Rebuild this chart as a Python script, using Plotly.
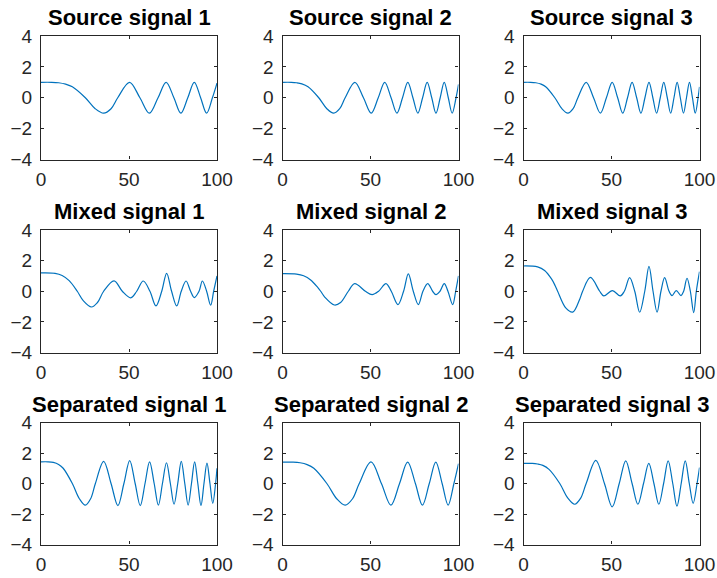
import plotly.graph_objects as go

# ---------------- data ----------------
X_TICKS = [0, 50, 100]
Y_TICKS = [-4, -2, 0, 2, 4]
TITLES = ["Source signal 1", "Source signal 2", "Source signal 3",
          "Mixed signal 1", "Mixed signal 2", "Mixed signal 3",
          "Separated signal 1", "Separated signal 2", "Separated signal 3"]

source1_x = [0, 6, 10, 14, 17.8, 25.2, 30.8, 35.6, 39.8, 43.6, 50.3, 56.2, 61.6, 66.5, 71.1,
             75.5, 79.5, 83.4, 87.1, 90.7, 94.1, 97.4, 100]
source1_y = [1.0, 1.0, 0.97, 0.88, 0.71, 0, -0.71, -1.0, -0.71, 0, 1.0, 0, -1.0, 0, 1.0,
             0, -1.0, 0, 1.0, 0, -1.0, 0, 0.95]

source2_x = [0, 5, 8, 11, 14.5, 20.6, 25.2, 29.1, 32.5, 35.6, 41.1, 46.0, 50.4, 54.4, 58.1,
             61.7, 65.0, 68.2, 71.2, 74.1, 76.9, 79.6, 82.2, 84.8, 87.2, 89.6, 91.9, 94.2,
             96.4, 98.6, 100]
source2_y = [1.0, 1.0, 0.97, 0.90, 0.71, 0, -0.71, -1.0, -0.71, 0, 1.0, 0, -1.0, 0, 1.0,
             0, -1.0, 0, 1.0, 0, -1.0, 0, 1.0, 0, -1.0, 0, 1.0, 0,
             -1.0, 0, 0.87]

source3_x = [0, 4, 7, 10, 12.6, 17.8, 21.8, 25.2, 28.2, 30.9, 35.6, 39.8, 43.7, 47.1, 50.4,
             53.5, 56.4, 59.1, 61.7, 64.3, 66.7, 69.0, 71.3, 73.5, 75.6, 77.7, 79.7, 81.7,
             83.6, 85.5, 87.3, 89.1, 90.9, 92.6, 94.3, 96.0, 97.6, 99.2, 100]
source3_y = [1.0, 1.0, 0.97, 0.88, 0.71, 0, -0.71, -1.0, -0.71, 0, 1.0, 0, -1.0, 0, 1.0,
             0, -1.0, 0, 1.0, 0, -1.0, 0, 1.0, 0, -1.0, 0, 1.0, 0,
             -1.0, 0, 1.0, 0, -1.0, 0, 1.0, 0, -1.0, 0, 0.70]

mixed1_x = [0, 8, 12, 16, 20.6, 24, 28.7, 32, 35.6, 41.5, 46.2, 51.0, 54.4, 58.1, 61.9,
            65.3, 68.6, 71.4, 74.2, 77.1, 79.7, 82.4, 85.0, 87.1, 89.8, 91.7, 94.1, 96.4,
            98.1, 100]
mixed1_y = [1.2, 1.17, 1.03, 0.69, 0, -0.61, -1.03, -0.75, 0, 0.68, 0, -0.43, 0, 0.67, 0,
            -0.96, 0, 1.17, 0, -0.96, 0, 0.67, 0, -0.41, 0, 0.67, 0, -0.91,
            0, 1.0]

mixed2_x = [0, 8, 12, 16, 20, 21.7, 24, 29.5, 33, 37.4, 41.0, 47.1, 50.9, 54.6, 58.8,
            61.8, 65.6, 68.8, 71.5, 74.3, 77.2, 79.8, 82.5, 85.3, 87.2, 89.5, 91.9, 94.0,
            96.7, 98.4, 100]
mixed2_y = [1.15, 1.12, 1.01, 0.74, 0.25, 0, -0.38, -0.9, -0.74, 0, 0.5, 0, -0.22, 0, 0.5,
            0, -0.87, 0, 1.13, 0, -0.87, 0, 0.5, 0, -0.22, 0, 0.5, 0,
            -0.87, 0, 1.0]

mixed3_x = [0, 8, 12, 16, 18, 19.4, 24, 28, 32, 33.6, 38.0, 43.3, 45.6, 50.5, 55.0,
            57.3, 60.3, 63.2, 66.0, 68.9, 71.3, 73.6, 75.9, 78.1, 80.2, 82.7, 84.4, 86.8,
            89.5, 91.0, 92.9, 94.8, 96.7, 98.2, 100]
mixed3_y = [1.65, 1.59, 1.36, 0.79, 0.36, 0, -1.09, -1.36, -0.5, 0, 0.9, 0, -0.30, 0.04, -0.30,
            0, 0.89, 0, -1.37, 0, 1.63, 0, -1.37, 0, 0.89, 0, -0.28, 0.04,
            -0.28, 0, 0.85, 0, -1.39, 0, 1.28]

separated1_x = [0, 4, 7, 10, 12.6, 17.8, 21.8, 25.2, 28.2, 30.9, 35.6, 39.8, 43.7, 47.1, 50.4,
                53.5, 56.4, 59.1, 61.7, 64.3, 66.7, 69.0, 71.3, 73.5, 75.6, 77.7, 79.7, 81.7,
                83.6, 85.5, 87.3, 89.1, 90.9, 92.6, 94.3, 96.0, 97.6, 99.2, 100]
separated1_y = [1.42, 1.42, 1.38, 1.25, 1.0, 0, -1.0, -1.42, -1.0, 0, 1.45, 0, -1.45, 0, 1.5,
                0, -1.45, 0, 1.42, 0, -1.42, 0, 1.36, 0, -1.36, 0, 1.45, 0,
                -1.42, 0, 1.42, 0, -1.45, 0, 1.34, 0, -1.3, 0, 1.0]

separated2_x = [0, 6, 10, 14, 17.8, 25.2, 30.8, 35.6, 39.8, 43.6, 50.3, 56.2, 61.6, 66.5, 71.1,
                75.5, 79.5, 83.4, 87.1, 90.7, 94.1, 97.4, 100]
separated2_y = [1.4, 1.4, 1.36, 1.24, 1.0, 0, -1.0, -1.42, -1.0, 0, 1.42, 0, -1.42, 0, 1.4,
                0, -1.42, 0, 1.4, 0, -1.42, 0, 1.3]

separated3_x = [0, 5, 8, 11, 14.5, 20.6, 25.2, 29.1, 32.5, 35.6, 41.1, 46.0, 50.4, 54.4, 58.1,
                61.7, 65.0, 68.2, 71.2, 74.1, 76.9, 79.6, 82.2, 84.8, 87.2, 89.6, 91.9, 94.2,
                96.4, 98.6, 100]
separated3_y = [1.32, 1.32, 1.28, 1.19, 0.93, 0, -0.96, -1.36, -0.96, 0, 1.51, 0, -1.53, 0, 1.49,
                0, -1.36, 0, 1.32, 0, -1.36, 0, 1.49, 0, -1.49, 0, 1.49, 0,
                -1.3, 0, 1.05]

SERIES = [(source1_x, source1_y), (source2_x, source2_y), (source3_x, source3_y),
          (mixed1_x, mixed1_y), (mixed2_x, mixed2_y), (mixed3_x, mixed3_y),
          (separated1_x, separated1_y), (separated2_x, separated2_y), (separated3_x, separated3_y)]

# ---------------- layout ----------------
W, H = 717, 578
COL_PX = [(41, 217), (282.5, 458.5), (523.5, 699.5)]
ROW_PX = [(36, 159.5), (230, 352.5), (422.5, 544.5)]
AX_COLOR = "#262626"
FONT = "Liberation Sans, Arial, Helvetica, sans-serif"

fig = go.Figure()
layout = dict(width=W, height=H, margin=dict(l=0, r=0, t=0, b=0, autoexpand=False),
              paper_bgcolor="white", plot_bgcolor="white", showlegend=False)
annotations = []

for i, (sx, sy) in enumerate(SERIES):
    assert len(sx) == len(sy), (i, len(sx), len(sy))
    r, c = divmod(i, 3)
    n = "" if i == 0 else str(i + 1)
    x0, x1 = COL_PX[c]
    y0, y1 = ROW_PX[r]
    fig.add_trace(go.Scatter(x=sx, y=sy, mode="lines",
                             line=dict(color="#0072BD", width=1.2, shape="spline", smoothing=1.0),
                             xaxis="x" + n, yaxis="y" + n, hoverinfo="skip"))
    common = dict(showline=True, linecolor=AX_COLOR, linewidth=1.3, mirror="ticks",
                  ticks="inside", ticklen=3, tickwidth=1, tickcolor=AX_COLOR,
                  showgrid=False, zeroline=False, fixedrange=True, automargin=False,
                  tickfont=dict(family=FONT, size=19, color=AX_COLOR))
    layout["xaxis" + n] = dict(domain=[x0 / W, x1 / W], anchor="y" + n,
                               range=[0, 100], tickvals=X_TICKS, ticklabelstandoff=3, **common)
    layout["yaxis" + n] = dict(domain=[1 - y1 / H, 1 - y0 / H], anchor="x" + n,
                               range=[-4, 4], tickvals=Y_TICKS, ticklabelstandoff=4, **common)
    annotations.append(dict(text="<b>" + TITLES[i] + "</b>",
                            x=(x0 + x1) / 2 / W, y=1 - y0 / H,
                            xref="paper", yref="paper", xanchor="center", yanchor="bottom",
                            yshift=4, showarrow=False,
                            font=dict(family=FONT, size=22, color="black")))

layout["annotations"] = annotations
fig.update_layout(**layout)
# remove the browser's default 8 px body margin so the figure sits at the page origin
fig.write_html("out.html", config={"displayModeBar": False},
               post_script="document.body.style.margin='0';document.body.style.overflow='hidden';")
